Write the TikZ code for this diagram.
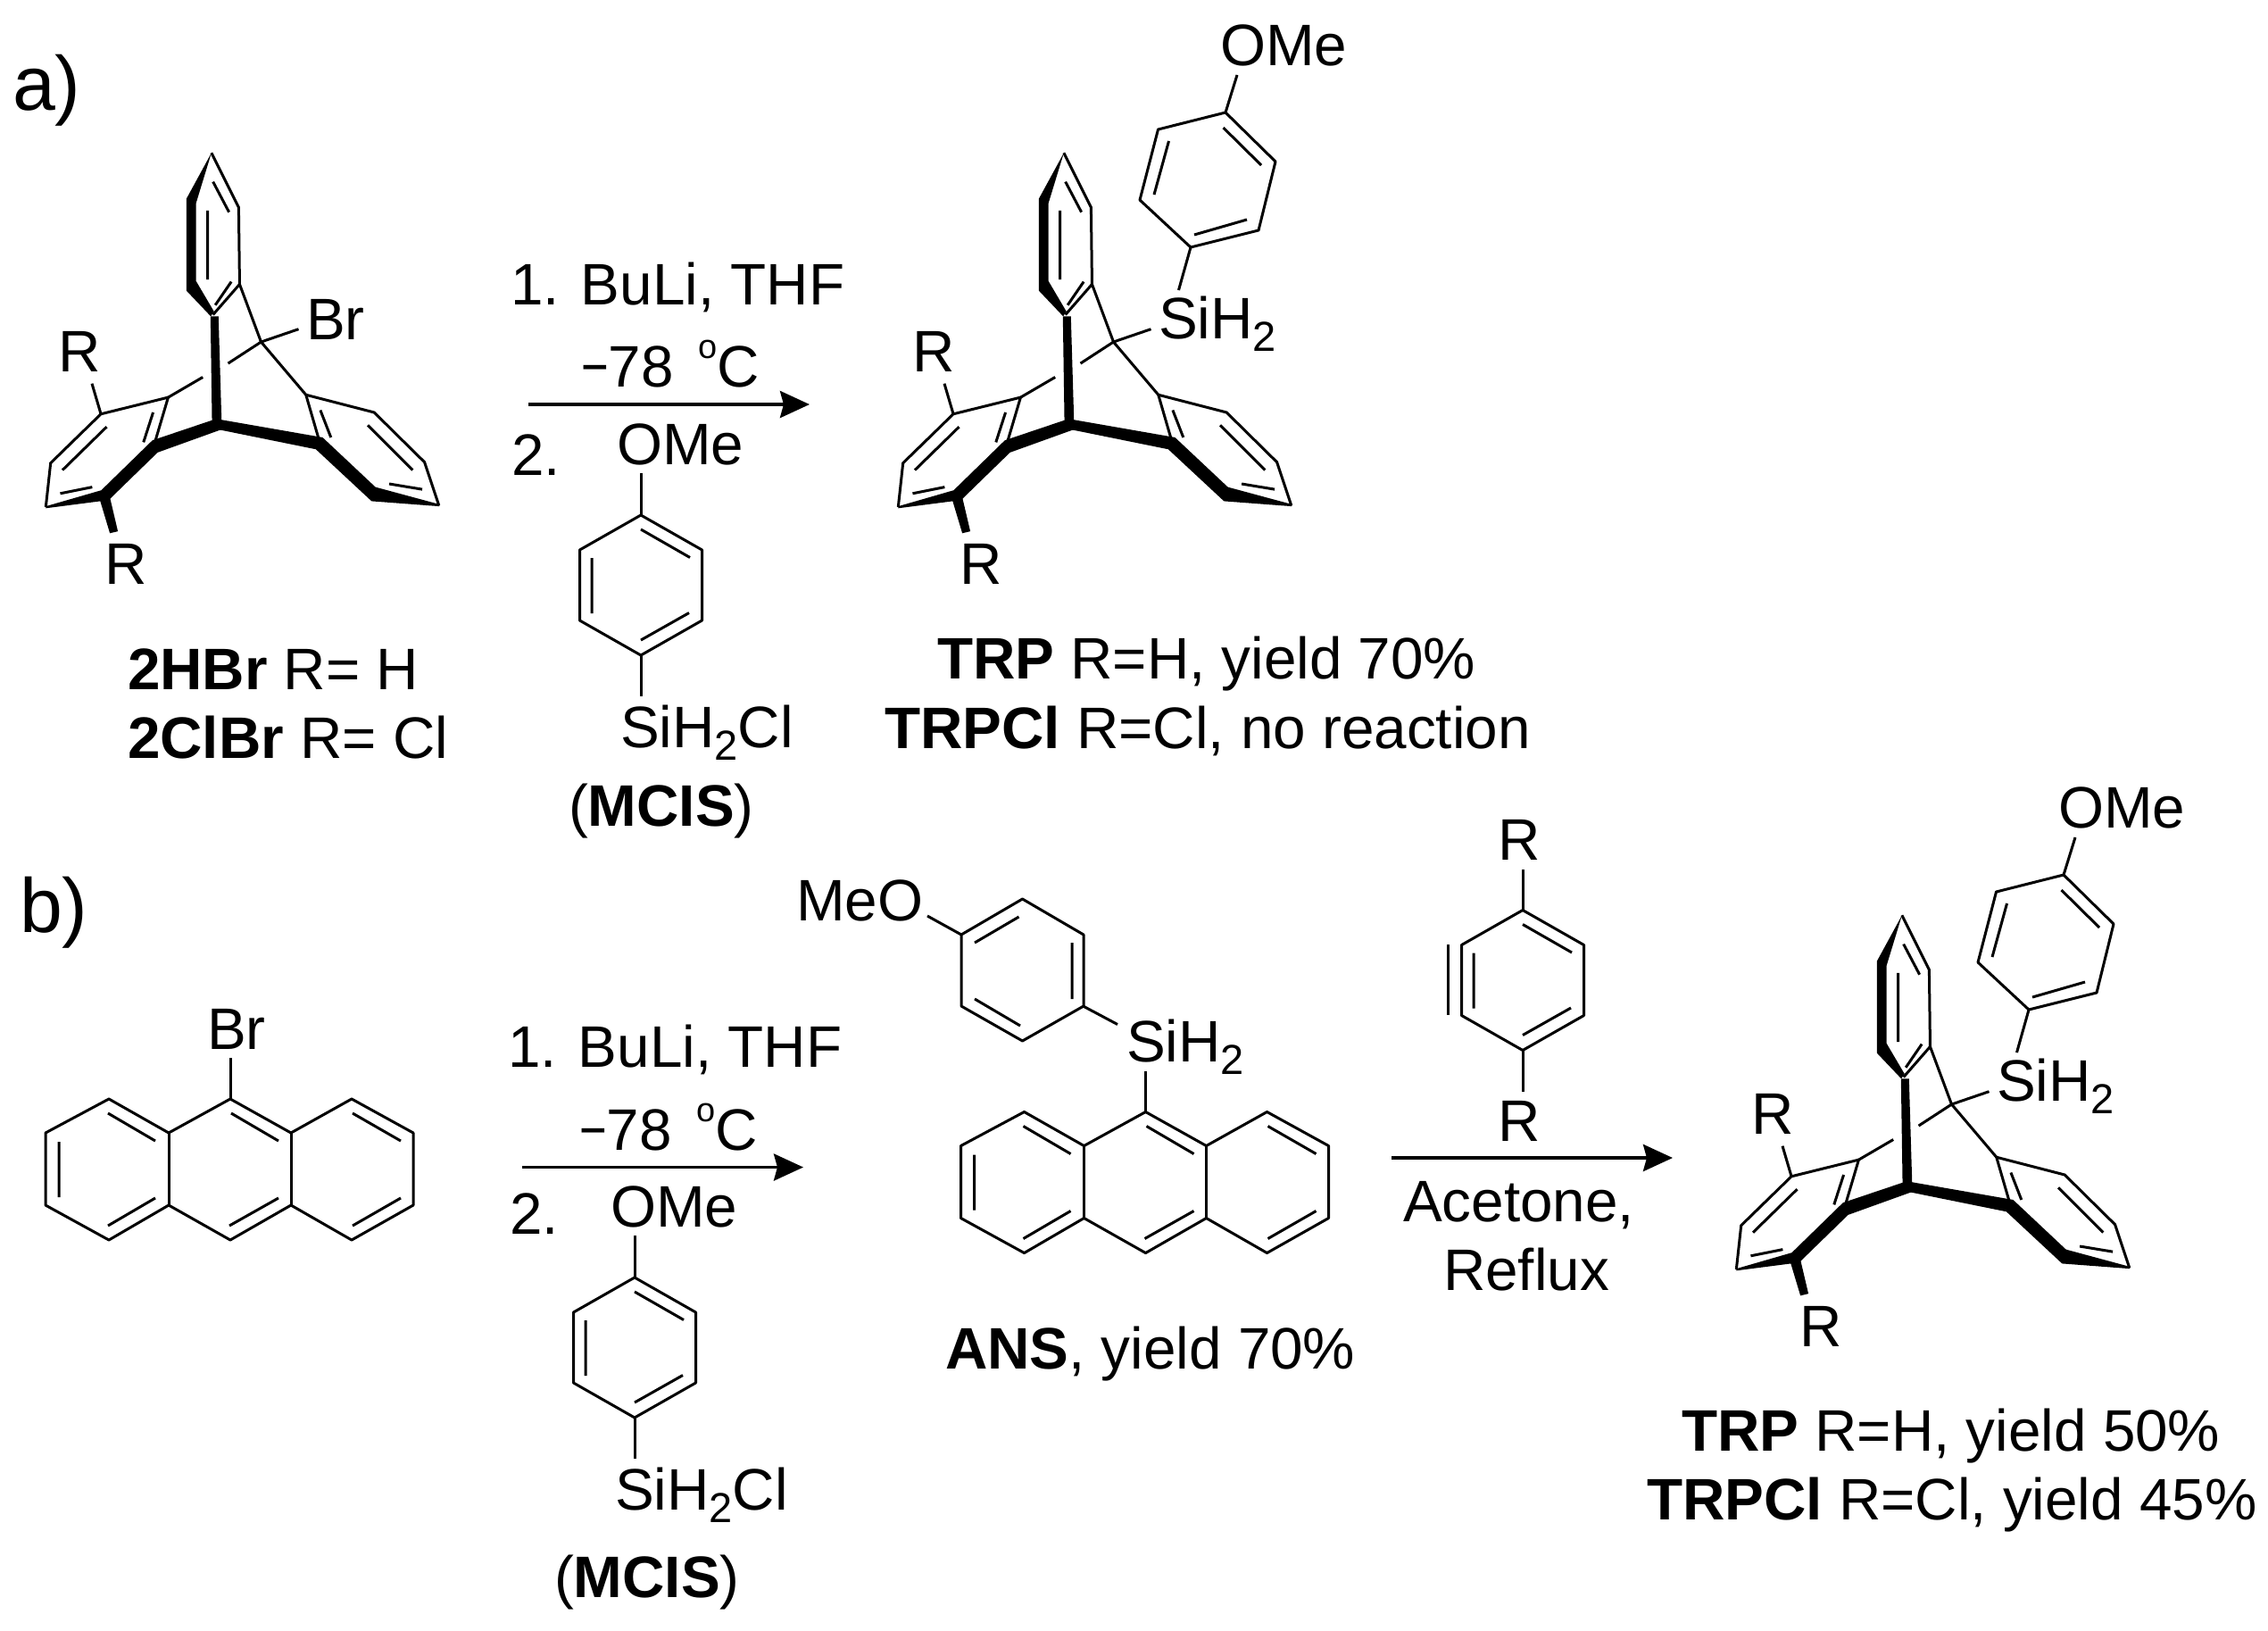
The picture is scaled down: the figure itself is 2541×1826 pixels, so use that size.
\documentclass[tikz,border=0pt]{standalone}
\usepackage{fontspec}
\setmainfont{Liberation Sans}
\usetikzlibrary{arrows.meta}
\tikzset{
  lab/.style={anchor=base west,inner sep=0pt,outer sep=0pt,font=\fontsize{32.8pt}{36pt}\selectfont},
  bond/.style={line width=1.5pt,line cap=butt,line join=miter},
  rxn/.style={line width=1.9pt,-{Stealth[length=16.5pt,width=15pt,inset=2pt]}}
}
\newcommand\T[4]{\node[lab] (#1) at (#2,#3) {#4};}
\newcommand\subtwo{\raisebox{-7pt}{\fontsize{23.5pt}{24pt}\selectfont 2}}
\newcommand\degC{\scalebox{.8}[1]{−}78\hspace*{14pt}\raisebox{16pt}{\fontsize{19pt}{20pt}\selectfont o}C}
% triptycene skeleton, drawn in a 2.786x enlarged frame
\newcommand\Trip[2]{%
\begin{scope}[shift={(#1,#2)}]\begin{scope}[shift={(0,130)},scale=0.3589]
\fill (660,115)--(582,258)--(582,545)--(658,625)--(668,610)--(612,515)--(612,272)--cycle;
\fill (657,625)--(682,625)--(692,960)--(662,960)--cycle;
\fill (672,946)--(476,1012)--(316,1168)--(143,1218)--(143,1224)--(313,1202)--(343,1302)--(368,1296)--(344,1194)--(492,1050)--(692,978)--cycle;
\fill (680,946)--(1007,1003)--(1172,1158)--(1372,1212)--(1372,1218)--(1160,1202)--(986,1040)--(680,978)--cycle;
\draw[bond] (660,115)--(745,285)--(748,525)--(665,620);
\draw[bond] (748,525)--(815,705)--(955,870)--(1000,1025);
\draw[bond] (955,870)--(1168,925)--(1325,1080)--(1370,1215);
\draw[bond] (932,665)--(815,705)--(712,772);
\draw[bond] (633,815)--(525,878)--(480,1030);
\draw[bond] (525,878)--(315,930)--(158,1083)--(143,1220);
\draw[bond] (315,930)--(287,835);
\draw[bond] (648,295)--(648,510) (665,205)--(715,300) (722,517)--(672,590);
\draw[bond] (478,925)--(448,1018) (333,970)--(195,1105) (288,1158)--(188,1178);
\draw[bond] (1000,918)--(1033,1003) (1148,965)--(1288,1105) (1215,1148)--(1318,1165);
\end{scope}\end{scope}}
% para-substituted ring centred at #1,#2
\newcommand\Ring[2]{%
\begin{scope}[shift={(#1,#2)}]
\draw[bond,line join=round] (0,-78.5)--(68.5,-39.5)--(68.5,39.5)--(0,78.5)--(-68.5,39.5)--(-68.5,-39.5)--cycle;
\draw[bond] (0,-62.5)--(55,-31) (-55,-30.5)--(-55,31.5) (0,61.5)--(54,31);
\end{scope}}
% ring of the silane in a tilted drawing
\newcommand\Aryl[2]{%
\begin{scope}[shift={(#1,#2)}]
\draw[bond,line join=round] (1373,126)--(1429,181)--(1410,258)--(1334,277)--(1277,224)--(1297.5,145)--cycle;
\draw[bond] (1370.5,143)--(1413,185) (1309.5,158)--(1293,218) (1338,263)--(1397,246);
\draw[bond] (1373,126)--(1386,84) (1334,277)--(1320.5,325);
\end{scope}}
\newcommand\Anth[2]{%
\begin{scope}[shift={(#1,#2)}]
\draw[bond,line join=round] (51,1269)--(122,1231)--(189,1269)--(258,1231)--(326,1269)--(394,1231)--(463,1269)--(463,1350)--(394,1389)--(326,1350)--(258,1389)--(189,1350)--(122,1389)--(51,1350)--cycle;
\draw[bond] (189,1269)--(189,1350) (326,1269)--(326,1350);
\draw[bond] (121,1247)--(174,1278) (259,1247)--(312,1278) (395,1247)--(449,1278) (66,1279)--(66,1341);
\draw[bond] (121,1373)--(174,1342) (257,1373)--(312,1342) (395,1373)--(449,1342);
\draw[bond] (258,1231)--(258,1185);
\end{scope}}
\begin{document}
\begin{tikzpicture}[x=0.5pt,y=-0.5pt]
\useasboundingbox (0,0) rectangle (2541,1826);
\T{la}{14}{123}{\fontsize{43pt}{45pt}\selectfont a)}
\T{lb}{22}{1044}{\fontsize{43pt}{45pt}\selectfont b)}
% ---- a) starting material
\Trip{0}{0}
\T{brA}{343}{380}{Br}
\T{rA}{65}{416}{R}
\T{rB}{117}{654}{R}
\T{nA}{143}{772}{\textbf{2HBr} R= H}
\T{nB}{143}{849}{\textbf{2ClBr} R= Cl}
% ---- a) reagents
\T{ra1}{572}{341}{1. BuLi, THF}
\T{ra2}{651}{433}{\degC}
\coordinate (a1s) at (592,453);
\coordinate (a1e) at (907,453);
\draw[rxn] (a1s)--(a1e);
\T{ra3}{573}{532}{2.}
\T{ra4}{691}{520}{OMe}
\Ring{718}{655.5}
\draw[bond] (718,577)--(718,530) (718,734)--(718,780);
\T{ra5}{695}{837}{SiH\subtwo Cl}
\T{ra6}{637}{925}{(\textbf{MCIS})}
% ---- a) product
\Trip{955}{0}
\Aryl{0}{0}
\T{pa1}{1298}{379}{SiH\subtwo}
\T{pa2}{1367}{73}{OMe}
\T{pa3}{1022}{416}{R}
\T{pa4}{1075}{654}{R}
\T{pa5}{1050}{760}{\textbf{TRP} R=H, yield 70\%}
\T{pa6}{991}{838}{\textbf{TRPCl} R=Cl, no reaction}
% ---- b) anthracene
\Anth{0}{0}
\T{brB}{232}{1175}{Br}
% ---- b) reagents
\T{rb1}{569}{1195}{1. BuLi, THF}
\T{rb2}{649}{1288}{\degC}
\coordinate (b1s) at (585,1307.5);
\coordinate (b1e) at (900,1307.5);
\draw[rxn] (b1s)--(b1e);
\T{rb3}{571}{1382}{2.}
\T{rb4}{684}{1374}{OMe}
\Ring{711}{1509.5}
\draw[bond] (711,1431)--(711,1384) (711,1588)--(711,1634);
\T{rb5}{689}{1691}{SiH\subtwo Cl}
\T{rb6}{621}{1789}{(\textbf{MCIS})}
% ---- b) ANS
\begin{scope}[shift={(1145.5,1086.5)},xscale=-1]
\draw[bond,line join=round] (0,-79.5)--(68.5,-39.5)--(68.5,40.5)--(0,79.5)--(-68.5,40.5)--(-68.5,-39.5)--cycle;
\draw[bond] (4,-59.5)--(53.5,-30.5) (-55.5,-30.5)--(-55.5,32.5) (53.5,32.5)--(2.5,62.5);
\end{scope}
\draw[bond] (1077,1047)--(1039,1026) (1213.5,1127)--(1252,1147.5);
\T{ans1}{892}{1031}{MeO}
\T{ans2}{1262}{1189}{SiH\subtwo}
\draw[bond] (1283,1200)--(1283,1246);
\Anth{1025.5}{14.5}
\T{ans3}{1059}{1533}{\textbf{ANS}, yield 70\%}
% ---- b) benzyne
\Ring{1706}{1098}
\draw[bond] (1622,1058)--(1622,1137);
\draw[bond] (1706,1019)--(1706,974) (1706,1177)--(1706,1223);
\T{by1}{1678}{963}{R}
\T{by2}{1678}{1278}{R}
\coordinate (b2s) at (1559,1297);
\coordinate (b2e) at (1874,1297);
\draw[rxn] (b2s)--(b2e);
\T{by3}{1572}{1368}{Acetone,}
\T{by4}{1617}{1445}{Reflux}
% ---- b) product
\Trip{1894}{854}
\Aryl{939}{854}
\T{pb1}{2237}{1233}{SiH\subtwo}
\T{pb2}{2306}{927}{OMe}
\T{pb3}{1962}{1270}{R}
\T{pb4}{2016}{1508}{R}
\T{pb5}{1884}{1625}{\textbf{TRP} R=H, yield 50\%}
\T{pb6}{1845}{1702}{\textbf{TRPCl} R=Cl, yield 45\%}
\end{tikzpicture}
\end{document}
